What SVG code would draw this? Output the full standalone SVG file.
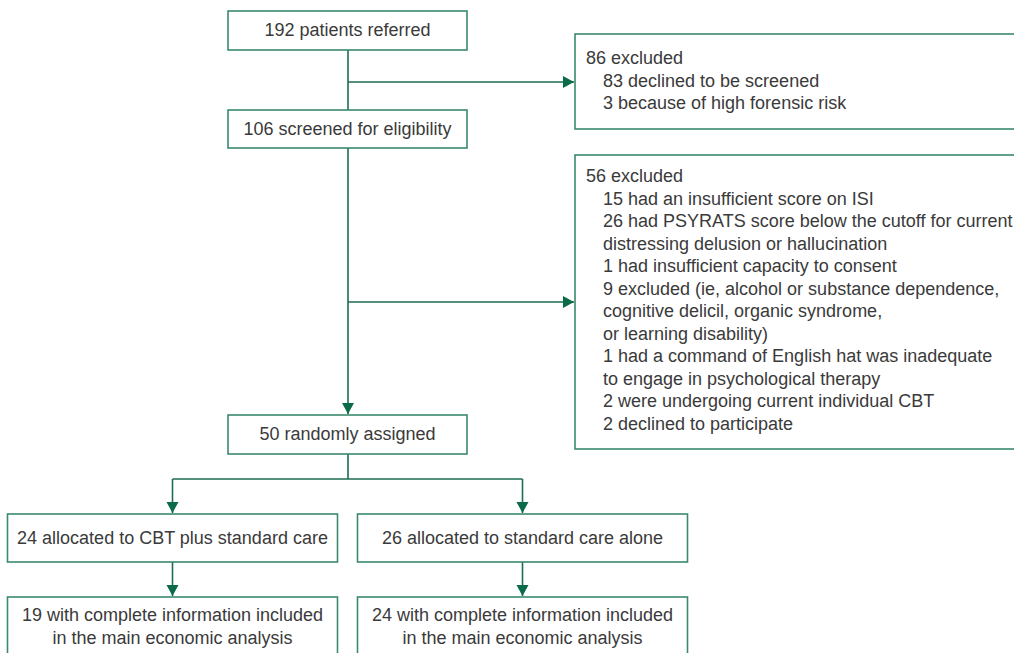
<svg xmlns="http://www.w3.org/2000/svg" width="1014" height="653" viewBox="0 0 1014 653">
<style>
.box{fill:#fff;stroke:#3a8a6c;stroke-width:1.6}
.ln{fill:none;stroke:#1b6e50;stroke-width:1.6}
text{font-family:"Liberation Sans",Arial,sans-serif;font-size:18px;fill:#3a3a3a}
.c{text-anchor:middle}
</style>
<defs>
<marker id="ah" markerUnits="userSpaceOnUse" markerWidth="12" markerHeight="13" refX="11" refY="6" orient="auto">
<polygon points="0,0 11,6 0,12" fill="#0b6a47"/>
</marker>
</defs>
<rect width="1014" height="653" fill="#fff"/>
<g id="connectors">
<path class="ln" d="M348,50 V110"/>
<path class="ln" d="M348,82 H574" marker-end="url(#ah)"/>
<path class="ln" d="M348,148 V414" marker-end="url(#ah)"/>
<path class="ln" d="M348,302 H574" marker-end="url(#ah)"/>
<path class="ln" d="M348,454 V479 M172.5,479 H522.5"/>
<path class="ln" d="M172.5,479 V513" marker-end="url(#ah)"/>
<path class="ln" d="M522.5,479 V513" marker-end="url(#ah)"/>
<path class="ln" d="M172.5,562 V596" marker-end="url(#ah)"/>
<path class="ln" d="M522.5,562 V596" marker-end="url(#ah)"/>
</g>
<g id="n1"><rect class="box" x="228" y="11" width="239" height="39"/><text class="c" x="347.5" y="36">192 patients referred</text></g>
<g id="n2"><rect class="box" x="228" y="110" width="239" height="38"/><text class="c" x="347.5" y="135">106 screened for eligibility</text></g>
<g id="ex1"><rect class="box" x="575" y="34" width="450" height="95"/>
<text x="586" y="64">86 excluded</text>
<text x="603" y="86.5">83 declined to be screened</text>
<text x="603" y="109">3 because of high forensic risk</text>
</g>
<g id="ex2"><rect class="box" x="575" y="155" width="450" height="294"/>
<text x="586" y="182">56 excluded</text>
<text x="603" y="204.5">15 had an insufficient score on ISI</text>
<text x="603" y="227">26 had PSYRATS score below the cutoff for current</text>
<text x="603" y="249.5">distressing delusion or hallucination</text>
<text x="603" y="272">1 had insufficient capacity to consent</text>
<text x="603" y="294.5">9 excluded (ie, alcohol or substance dependence,</text>
<text x="603" y="317">cognitive delicil, organic syndrome,</text>
<text x="603" y="339.5">or learning disability)</text>
<text x="603" y="362">1 had a command of English hat was inadequate</text>
<text x="603" y="384.5">to engage in psychological therapy</text>
<text x="603" y="407">2 were undergoing current individual CBT</text>
<text x="603" y="429.5">2 declined to participate</text>
</g>
<g id="n3"><rect class="box" x="228" y="415" width="239" height="39"/><text class="c" x="347.5" y="440">50 randomly assigned</text></g>
<g id="n4"><rect class="box" x="7.5" y="514" width="330" height="48"/><text class="c" x="172.5" y="543.5">24 allocated to CBT plus standard care</text></g>
<g id="n5"><rect class="box" x="357.5" y="514" width="330" height="48"/><text class="c" x="522.5" y="543.5">26 allocated to standard care alone</text></g>
<g id="n6"><rect class="box" x="7.5" y="597" width="330" height="70"/><text class="c" x="172.5" y="621">19 with complete information included</text><text class="c" x="172.5" y="643.5">in the main economic analysis</text></g>
<g id="n7"><rect class="box" x="357.5" y="597" width="330" height="70"/><text class="c" x="522.5" y="621">24 with complete information included</text><text class="c" x="522.5" y="643.5">in the main economic analysis</text></g>
</svg>
